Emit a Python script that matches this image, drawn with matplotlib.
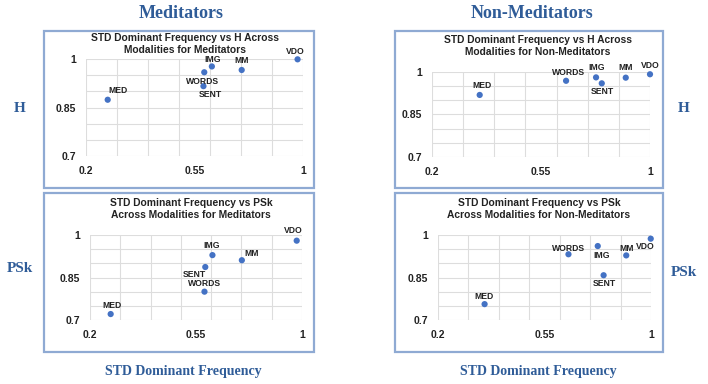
import numpy as np
import matplotlib
matplotlib.use("Agg")
import matplotlib.pyplot as plt
from matplotlib.patches import Rectangle

# ---------------- data ----------------
modalities = ["MED", "WORDS", "SENT", "IMG", "MM", "VDO"]

med_h_x = [0.28, 0.636, 0.633, 0.664, 0.774, 0.98]
med_h_y = [0.874, 0.959, 0.916, 0.977, 0.966, 0.999]

non_h_x = [0.375, 0.692, 0.823, 0.802, 0.911, 1.0]
non_h_y = [0.919, 0.969, 0.960, 0.981, 0.980, 0.992]

med_psk_x = [0.278, 0.632, 0.635, 0.662, 0.773, 0.98]
med_psk_y = [0.721, 0.800, 0.887, 0.929, 0.911, 0.980]

non_psk_x = [0.375, 0.690, 0.822, 0.800, 0.907, 0.999]
non_psk_y = [0.756, 0.932, 0.858, 0.961, 0.928, 0.987]

x_tick_labels = ["0.2", "0.55", "1"]
y_tick_labels = ["0.7", "0.85", "1"]

titles = [
    "STD Dominant Frequency vs H Across\nModalities for Meditators",
    "STD Dominant Frequency vs H Across\nModalities for Non-Meditators",
    "STD Dominant Frequency vs PSk\nAcross Modalities for Meditators",
    "STD Dominant Frequency vs PSk\nAcross Modalities for Non-Meditators",
]

# label offsets in pixels (dx, dy downwards positive) per panel, per modality
label_offsets = [
    {"MED": (10, -9), "WORDS": (-2, 9), "SENT": (7, 8), "IMG": (1, -7), "MM": (0, -9), "VDO": (-2, -8)},
    {"MED": (2, -9), "WORDS": (2, -8), "SENT": (1, 8), "IMG": (1, -10), "MM": (0, -10), "VDO": (0, -9)},
    {"MED": (1, -9), "WORDS": (0, -8), "SENT": (-11, 7), "IMG": (-1, -10), "MM": (10, -7), "VDO": (-3, -10)},
    {"MED": (-1, -8), "WORDS": (0, -6), "SENT": (1, 8), "IMG": (4, 9), "MM": (0, -7), "VDO": (-5, 8)},
]

# ---------------- layout ----------------
W, H = 708, 384
fig = plt.figure(figsize=(W / 100, H / 100), dpi=100)
fig.patch.set_facecolor("white")

blue_txt = "#2F5C98"
box_col = "#8FAAD3"
pt_col = "#4472C4"
grid_col = "#DDDDDD"


def fx(px):
    return px / W


def fy(py):
    return 1 - py / H


# boxes: (left, top, right, bottom) in px
boxes = [(44, 31, 314, 188), (395, 31, 663, 188), (44, 193, 314, 352), (395, 193, 663, 352)]
for (l, t, r, b) in boxes:
    fig.patches.append(Rectangle((fx(l), fy(b)), fx(r) - fx(l), fy(t) - fy(b),
                                 transform=fig.transFigure, facecolor="white",
                                 edgecolor=box_col, lw=1.6, zorder=-5))

# plot areas (left, top, right, bottom) in px
areas = [(86, 59, 303, 156), (432, 72, 650, 157), (90, 235, 302, 320), (438, 235, 651, 320)]
title_pos = [(185, 44), (538, 46), (191, 209), (539, 209)]

datasets = [(med_h_x, med_h_y), (non_h_x, non_h_y), (med_psk_x, med_psk_y), (non_psk_x, non_psk_y)]

xlim = (0.2, 1.0)
ylim = (0.7, 1.0)

for i, ((l, t, r, b), (xs, ys)) in enumerate(zip(areas, datasets)):
    ax = fig.add_axes([fx(l), fy(b), fx(r) - fx(l), fy(t) - fy(b)])
    ax.set_zorder(2)
    ax.xaxis.remove_overlapping_locs = False
    ax.yaxis.remove_overlapping_locs = False
    ax.set_xlim(*xlim)
    ax.set_ylim(*ylim)
    ax.set_xticks(np.linspace(xlim[0], xlim[1], 8), minor=True)
    ax.set_yticks(np.linspace(ylim[0], ylim[1], 7), minor=True)
    ax.set_xticks(np.linspace(xlim[0], xlim[1], len(x_tick_labels)))
    ax.set_xticklabels(x_tick_labels)
    ax.set_yticks(np.linspace(ylim[0], ylim[1], len(y_tick_labels)))
    ax.set_yticklabels(y_tick_labels)
    ax.grid(True, which="minor", color=grid_col, lw=0.8)
    ax.grid(False, which="major")
    ax.tick_params(which="both", length=0)
    ax.tick_params(axis="x", pad=7)
    ax.tick_params(axis="y", pad=7)
    for lab in ax.get_xticklabels() + ax.get_yticklabels():
        lab.set_fontsize(7.5)
        lab.set_fontweight("bold")
        lab.set_fontfamily("Liberation Sans")
        lab.set_color("#222222")
    for s in ax.spines.values():
        s.set_visible(False)
    ax.set_facecolor("none")
    ax.scatter(xs, ys, s=20, color=pt_col, zorder=3, clip_on=False, edgecolors="none")
    for name, x, y in zip(modalities, xs, ys):
        dx, dy = label_offsets[i][name]
        ax.annotate(name, (x, y), xytext=(dx * 0.72, -dy * 0.72), textcoords="offset points",
                    ha="center", va="center", fontsize=6.2, fontweight="bold",
                    fontfamily="Liberation Sans", color="#222222", annotation_clip=False)
    tx, ty = title_pos[i]
    fig.text(fx(tx), fy(ty), titles[i], ha="center", va="center", fontsize=7.4,
             fontweight="bold", family="Liberation Sans", color="#222222", linespacing=1.3,
             zorder=3)

serif = "Liberation Serif"
fig.text(fx(181), fy(14), "Meditators", ha="center", va="center", fontsize=13,
         fontweight="bold", family=serif, color=blue_txt)
fig.text(fx(532), fy(14), "Non-Meditators", ha="center", va="center", fontsize=13,
         fontweight="bold", family=serif, color=blue_txt)
fig.text(fx(20), fy(108), "H", ha="center", va="center", fontsize=11,
         fontweight="bold", family=serif, color=blue_txt)
fig.text(fx(684), fy(108), "H", ha="center", va="center", fontsize=11,
         fontweight="bold", family=serif, color=blue_txt)
fig.text(fx(20), fy(268), "PSk", ha="center", va="center", fontsize=11,
         fontweight="bold", family=serif, color=blue_txt)
fig.text(fx(684), fy(272), "PSk", ha="center", va="center", fontsize=11,
         fontweight="bold", family=serif, color=blue_txt)
fig.text(fx(183), fy(372), "STD Dominant Frequency", ha="center", va="center", fontsize=10,
         fontweight="bold", family=serif, color=blue_txt)
fig.text(fx(538), fy(372), "STD Dominant Frequency", ha="center", va="center", fontsize=10,
         fontweight="bold", family=serif, color=blue_txt)

fig.savefig("out.png", dpi=100)
